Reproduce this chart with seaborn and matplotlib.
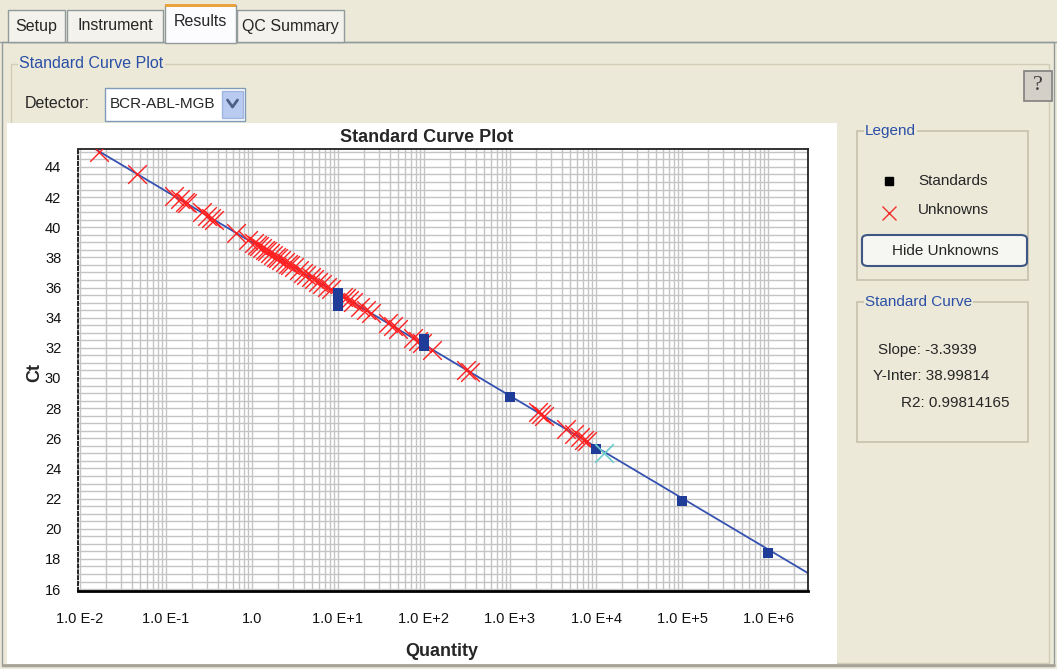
import numpy as np
import matplotlib
matplotlib.use("Agg")
import matplotlib.pyplot as plt
import seaborn as sns
from matplotlib.patches import Rectangle, FancyBboxPatch
from matplotlib.lines import Line2D
from matplotlib.ticker import FixedLocator, MultipleLocator, NullFormatter, FixedFormatter

# ---------------- data ----------------
std_quantity = [10, 10, 10, 10, 100, 100, 100, 1000, 10000, 100000, 1000000]
std_ct = [35.65, 35.35, 35.05, 34.8, 32.6, 32.35, 32.1, 28.75, 25.3, 21.85, 18.4]

unk_quantity = [0.0165, 0.046, 0.125, 0.145, 0.165, 0.175, 0.26, 0.30, 0.33, 0.36,
                0.65, 0.9, 1.05, 1.15, 1.2, 1.3, 1.4, 1.5, 1.6, 1.75, 1.9, 2.0,
                2.2, 2.4, 2.6, 2.8, 3.1, 3.5, 3.9, 4.3, 4.8, 5.3, 5.9, 6.5, 7.5,
                8.2, 11.5, 12.5, 13.5, 15, 18, 21, 24, 38, 44, 50, 75, 85, 95,
                125, 310, 340, 2100, 2300, 2500, 4500, 5500, 6500, 7200, 7800]
unk_ct = [45.0, 43.55, 42.05, 41.85, 41.65, 41.6, 40.98, 40.77, 40.63, 40.5,
          39.63, 39.15, 38.93, 38.79, 38.73, 38.61, 38.5, 38.4, 38.31, 38.17,
          38.05, 37.98, 37.84, 37.71, 37.59, 37.48, 37.33, 37.15, 36.99, 36.85,
          36.69, 36.54, 36.38, 36.24, 36.03, 35.9, 35.4, 35.28, 35.16, 35.01,
          34.74, 34.51, 34.31, 33.64, 33.42, 33.23, 32.63, 32.45, 32.29, 31.88,
          30.54, 30.41, 27.72, 27.58, 27.47, 26.6, 26.3, 26.06, 25.91, 25.79]

flag_quantity = [12500]
flag_ct = [25.05]

slope = -3.3939
y_intercept = 38.99814
r2 = 0.99814165

x_tick_values = [1e-2, 1e-1, 1e0, 1e1, 1e2, 1e3, 1e4, 1e5, 1e6]
x_tick_labels = ["1.0 E-2", "1.0 E-1", "1.0", "1.0 E+1", "1.0 E+2", "1.0 E+3",
                 "1.0 E+4", "1.0 E+5", "1.0 E+6"]
y_tick_values = [16, 18, 20, 22, 24, 26, 28, 30, 32, 34, 36, 38, 40, 42, 44]
x_limits = (10 ** -2.023, 10 ** 6.465)
y_limits = (15.87, 45.19)

tab_names = ["Setup", "Instrument", "Results", "QC Summary"]
detector_name = "BCR-ABL-MGB"

# ---------------- style ----------------
sns.set_style("white")
UI = ['Liberation Sans', 'DejaVu Sans']
NARROW = ['Liberation Sans Narrow', 'Liberation Sans', 'DejaVu Sans']
plt.rcParams['font.family'] = UI

W, H = 1057, 669
BEIGE = '#ECE9D8'
BLUE_T = '#2B4FA6'
fig = plt.figure(figsize=(W / 100, H / 100), dpi=100, facecolor=BEIGE)


def fx(x):
    return x / W


def fy(y):
    return 1 - y / H


def rect(x0, y0, x1, y1, **kw):
    r = Rectangle((fx(x0), fy(y1)), (x1 - x0) / W, (y1 - y0) / H,
                  transform=fig.transFigure, **kw)
    fig.patches.append(r)
    return r


def line(xs, ys, **kw):
    fig.lines.append(Line2D([fx(v) for v in xs], [fy(v) for v in ys],
                            transform=fig.transFigure, **kw))


def text(x, y, s, **kw):
    kw.setdefault('family', UI)
    fig.text(fx(x), fy(y), s, **kw)


# ---------------- tabs ----------------
line([0, W], [42, 42], color='#919B9C', lw=1)
tab_boxes = [(8, 65), (67, 163), (165, 236), (237, 344)]
for name, (a, b) in zip(tab_names, tab_boxes):
    if name == "Results":
        rect(a, 5, b, 43, facecolor='#FCFCFE', edgecolor='#919B9C', lw=1, zorder=3)
        rect(a, 4, b, 7, facecolor='#E8A33C', edgecolor='none', zorder=4)
        text((a + b) / 2, 21, name, ha='center', va='center', fontsize=11.5, zorder=5)
    else:
        rect(a, 10, b, 42, facecolor='#F3F2EC', edgecolor='#919B9C', lw=1, zorder=2)
        text((a + b) / 2, 26, name, ha='center', va='center', fontsize=11.5, zorder=5)

# outer panel
rect(2, 42, W - 3, H - 3, facecolor='none', edgecolor='#919B9C', lw=1, zorder=1)
line([3, W - 3], [H - 4, H - 4], color='#A8A597', lw=2)

# group box "Standard Curve Plot"
rect(11, 64, W - 8, H - 6, facecolor='none', edgecolor='#D0CCB8', lw=1, zorder=1)
text(19, 63, "Standard Curve Plot", ha='left', va='center', fontsize=11.5,
     color=BLUE_T, zorder=5,
     bbox=dict(facecolor=BEIGE, edgecolor='none', pad=1))

# detector combobox
text(25, 104, "Detector:", ha='left', va='center', fontsize=11.5)
rect(105, 88, 245, 121, facecolor='white', edgecolor='#7F9DB9', lw=1, zorder=2)
text(110, 104, detector_name, ha='left', va='center', fontsize=11, zorder=5)
rect(222, 91, 243, 118, facecolor='#B9CBF0', edgecolor='#9FB4E0', lw=1, zorder=3)
line([227.5, 232.5, 237.5], [100, 107, 100], color='#4D6185', lw=2, zorder=4)

# help button
rect(1024, 71, 1052, 101, facecolor='#D4D0C8', edgecolor='#808080', lw=1.2, zorder=2)
text(1038, 86, "?", ha='center', va='center', fontsize=16, color='#404040',
     family=['Liberation Serif', 'DejaVu Serif'], zorder=5)

# white chart area
rect(7, 123, 837, 664, facecolor='white', edgecolor='none', zorder=1)

# legend box
rect(857, 131, 1028, 280, facecolor='none', edgecolor='#C5C1AC', lw=1.2, zorder=1)
text(865, 131, "Legend", ha='left', va='center', fontsize=11, color=BLUE_T,
     bbox=dict(facecolor=BEIGE, edgecolor='none', pad=1), zorder=5)
fig.lines.append(Line2D([fx(889)], [fy(181)], marker='s', markersize=6,
                        color='black', transform=fig.transFigure, lw=0))
fig.lines.append(Line2D([fx(889)], [fy(213)], marker='x', markersize=10,
                        markeredgewidth=1.0, color='#F03030',
                        transform=fig.transFigure, lw=0))
text(918, 181, "Standards", ha='left', va='center', fontsize=11)
text(918, 210, "Unknowns", ha='left', va='center', fontsize=11)
btn = FancyBboxPatch((fx(862), fy(266)), (1027 - 862) / W, (266 - 235) / H,
                     boxstyle="round,pad=0,rounding_size=0.006",
                     transform=fig.transFigure, facecolor='#F6F6F2',
                     edgecolor='#3E5785', lw=1.5, zorder=2)
fig.patches.append(btn)
text(945, 251, "Hide Unknowns", ha='center', va='center', fontsize=11, zorder=5)

# standard curve box
rect(857, 302, 1028, 442, facecolor='none', edgecolor='#C5C1AC', lw=1.2, zorder=1)
text(865, 302, "Standard Curve", ha='left', va='center', fontsize=11, color=BLUE_T,
     bbox=dict(facecolor=BEIGE, edgecolor='none', pad=1), zorder=5)
text(878, 350, f"Slope: {slope}", ha='left', va='center', fontsize=11)
text(873, 376, f"Y-Inter: {y_intercept}", ha='left', va='center', fontsize=11)
text(901, 403, f"R2: {r2}", ha='left', va='center', fontsize=11)

# ---------------- chart ----------------
ax = fig.add_axes([fx(78), fy(591), (808 - 78) / W, (591 - 149) / H])
ax.set_facecolor('white')
ax.set_zorder(3)

q_line = np.array(x_limits)
ct_line = y_intercept + slope * np.log10(q_line)
sns.lineplot(x=q_line, y=ct_line, color='#3552B0', lw=1.3, ax=ax, zorder=2)
sns.scatterplot(x=unk_quantity, y=unk_ct, marker='x', s=180, color='#FF2222',
                linewidth=1.0, ax=ax, zorder=3)
sns.scatterplot(x=std_quantity, y=std_ct, marker='s', s=42, color='#1E3C98',
                linewidth=0, ax=ax, zorder=4)
sns.scatterplot(x=flag_quantity, y=flag_ct, marker='x', s=180, color='#6CCCCC',
                linewidth=1.2, ax=ax, zorder=5)

ax.set_xscale('log')
ax.set_xlim(*x_limits)
ax.set_ylim(*y_limits)

ax.xaxis.set_major_locator(FixedLocator(x_tick_values))
ax.xaxis.set_major_formatter(FixedFormatter(x_tick_labels))
minor_x = [m * 10.0 ** e for e in range(-3, 7) for m in range(2, 10)]
ax.xaxis.set_minor_locator(FixedLocator(minor_x))
ax.xaxis.set_minor_formatter(NullFormatter())
ax.yaxis.set_major_locator(FixedLocator(y_tick_values))
ax.yaxis.set_minor_locator(MultipleLocator(0.5))

ax.grid(which='both', color='#C4C4C4', lw=1.0)
ax.set_axisbelow(True)

ax.tick_params(axis='x', which='major', length=11, width=1, color='#B0B0B0',
               pad=4, labelsize=10.5)
ax.tick_params(axis='x', which='minor', length=8, width=1, color='#C0C0C0')
ax.tick_params(axis='y', which='major', length=6, width=1, color='#A0A0A0',
               pad=6, labelsize=10.5)
ax.tick_params(axis='y', which='minor', length=4, width=1, color='#C0C0C0')
for lab in ax.get_xticklabels() + ax.get_yticklabels():
    lab.set_family(NARROW)
    lab.set_color('#111111')

for side in ['top', 'right']:
    ax.spines[side].set_color('#222222')
    ax.spines[side].set_linewidth(1.3)
ax.spines['bottom'].set_color('black')
ax.spines['bottom'].set_linewidth(2.0)
ax.spines['left'].set_color('black')
ax.spines['left'].set_linewidth(1.2)
ax.spines['left'].set_linestyle((0, (2, 1.5)))

ax.set_xlabel("")
ax.set_ylabel("")
text(427, 138, "Standard Curve Plot", ha='center', va='center', fontsize=13,
     fontweight='bold', family=NARROW, zorder=6)
text(35, 372, "Ct", ha='center', va='center', fontsize=13, fontweight='bold',
     rotation=90, family=NARROW, zorder=6)
text(442, 651, "Quantity", ha='center', va='center', fontsize=13,
     fontweight='bold', family=NARROW, zorder=6)

fig.savefig("out.png", dpi=100, facecolor=BEIGE)
